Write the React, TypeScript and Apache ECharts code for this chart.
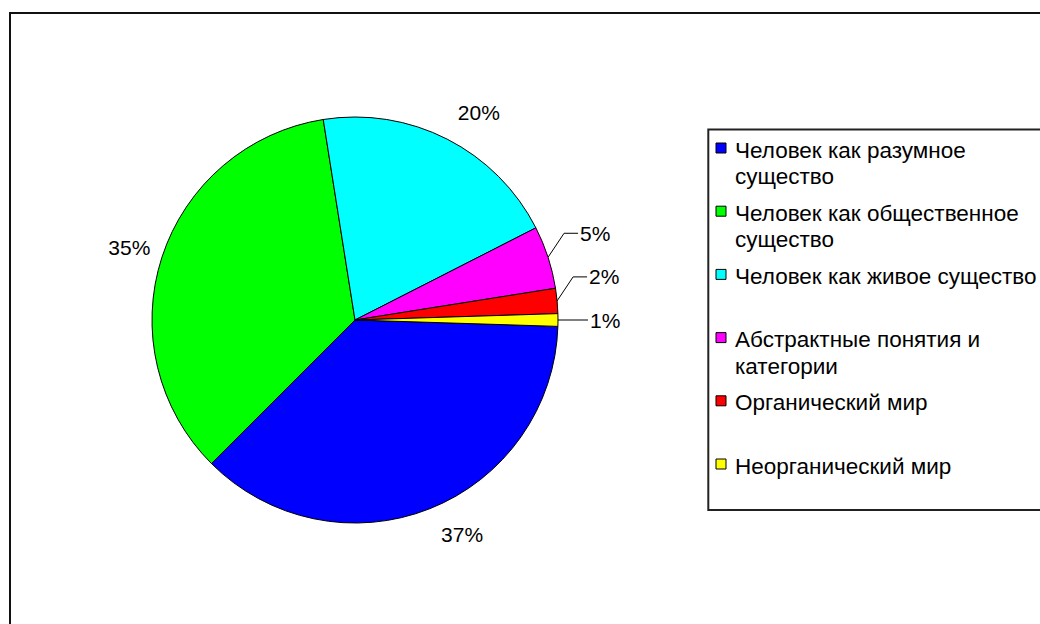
import React, { useEffect, useRef } from "react";
import * as echarts from "echarts";

// Category names, shares (percent) and slice colours
const categories = [
  "Человек как разумное существо",
  "Человек как общественное существо",
  "Человек как живое существо",
  "Абстрактные понятия и категории",
  "Органический мир",
  "Неорганический мир",
];
const shares = [37, 35, 20, 5, 2, 1];
const sliceColors = ["#0000FF", "#00FF00", "#00FFFF", "#FF00FF", "#FF0000", "#FFFF00"];

// Per-slice label styling
const labelLineLength = [28, 30, 30, 8, 8, 8];
const labelGap = [1, -17, -3, 2, 2, 2];
const leaderShown = [false, false, false, true, true, true];
const leaderRise = [0, 0, 0, 24, 24, 0];

const FONT = '"Liberation Sans", Arial, sans-serif';
const LEGEND_FONT_SIZE = 22.5;
const LEGEND_WRAP = 318;

// Word-wrap a legend entry to the legend's text width
function wrapText(text: string, font: string, maxWidth: number): string {
  const ctx = document.createElement("canvas").getContext("2d");
  if (!ctx) return text;
  ctx.font = font;
  const words = text.split(" ");
  const lines: string[] = [];
  let line = "";
  for (const w of words) {
    const candidate = line ? line + " " + w : w;
    if (line && ctx.measureText(candidate).width > maxWidth) {
      lines.push(line);
      line = w;
    } else {
      line = candidate;
    }
  }
  if (line) lines.push(line);
  return lines.join("\n");
}

export default function App() {
  const ref = useRef<HTMLDivElement>(null);

  useEffect(() => {
    if (!ref.current) return;
    const chart = echarts.init(ref.current, undefined, { renderer: "svg" });

    const legendTop = 148;
    const legendPitch = 63.2;
    const canvasFont = `${LEGEND_FONT_SIZE}px ${FONT}`;
    const legendItems: any[] = [];
    categories.forEach((name, i) => {
      const cy = legendTop + i * legendPitch;
      legendItems.push({
        type: "rect",
        silent: true,
        shape: { x: 716, y: cy - 5, width: 10, height: 10 },
        style: { fill: sliceColors[i], stroke: "#000", lineWidth: 1 },
      });
      legendItems.push({
        type: "text",
        silent: true,
        x: 735,
        y: cy + 2 - 13.25,
        style: {
          text: wrapText(name, canvasFont, LEGEND_WRAP),
          fontSize: LEGEND_FONT_SIZE,
          fontFamily: FONT,
          fill: "#000",
          lineHeight: 26.5,
          align: "left",
          verticalAlign: "top",
        },
      });
    });

    chart.setOption({
      animation: false,
      backgroundColor: "#ffffff",
      graphic: [
        {
          type: "rect",
          silent: true,
          shape: { x: 10, y: 13, width: 1200, height: 800 },
          style: { fill: "none", stroke: "#111", lineWidth: 2 },
        },
        {
          type: "rect",
          silent: true,
          shape: { x: 708.3, y: 129.5, width: 500, height: 380.5 },
          style: { fill: "none", stroke: "#222", lineWidth: 2 },
        },
        ...legendItems,
      ],
      series: [
        {
          type: "pie",
          center: [355, 320],
          radius: 203,
          startAngle: -1.8,
          clockwise: true,
          avoidLabelOverlap: false,
          emphasis: { disabled: true },
          itemStyle: { borderColor: "#000", borderWidth: 1 },
          label: {
            position: "outside",
            formatter: (p: any) => Math.round(p.percent) + "%",
            fontSize: 21,
            fontFamily: FONT,
            color: "#000",
          },
          labelLine: {
            smooth: false,
            lineStyle: { color: "#000", width: 1 },
          },
          labelLayout: (p: any) => {
            const i = p.dataIndex;
            if (!leaderShown[i] || !p.labelLinePoints) return {};
            const [x0, y0] = p.labelLinePoints[0];
            const x1 = x0 + 16;
            const y1 = y0 - leaderRise[i];
            const x2 = x1 + 14;
            return {
              x: x2 + labelGap[i],
              y: y1,
              align: "left",
              verticalAlign: "middle",
              labelLinePoints: [
                [x0, y0],
                [x1, y1],
                [x2, y1],
              ],
            };
          },
          data: categories.map((name, i) => ({
            name,
            value: shares[i],
            itemStyle: { color: sliceColors[i] },
            label: { distanceToLabelLine: labelGap[i] },
            labelLine: {
              show: leaderShown[i],
              length: labelLineLength[i],
              length2: 0,
            },
          })),
        },
      ],
    });

    return () => chart.dispose();
  }, []);

  return (
    <div
      ref={ref}
      style={{ position: "fixed", left: 0, top: 0, width: 1040, height: 624, background: "#fff" }}
    />
  );
}
